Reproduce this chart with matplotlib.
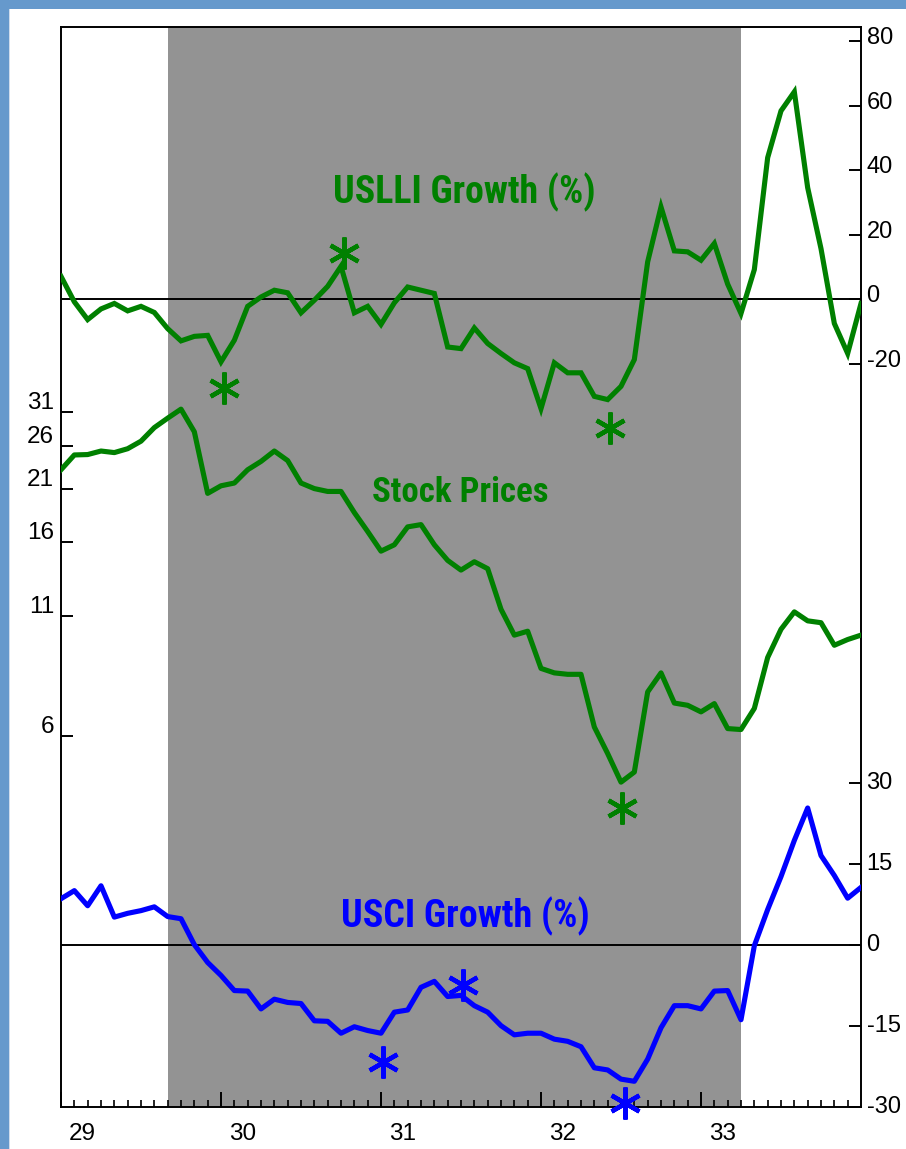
import numpy as np
import matplotlib
matplotlib.use('Agg')
import matplotlib.pyplot as plt
from matplotlib import font_manager as fm
import matplotlib.transforms as mtransforms
from matplotlib.patches import Rectangle
from matplotlib.ticker import FixedLocator, NullLocator

# ---------------- data ----------------
month_index = np.arange(61)  # Jan 1929 .. Jan 1934 (monthly)

uslli_growth = [7.1, -0.8, -6.3, -3.0, -1.3, -3.6, -2.2, -4.1, -9.1, -12.9,
                -11.5, -11.2, -19.4, -12.7, -2.2, 0.7, 2.8, 2.0, -4.2, -0.3,
                4.0, 10.2, -4.2, -2.2, -7.8, -1.1, 3.8, 2.8, 1.8, -14.8,
                -15.3, -8.9, -13.7, -16.8, -19.7, -21.5, -33.9, -19.7, -22.8, -22.8,
                -30.1, -31.1, -27.0, -18.7, 11.6, 28.6, 15.0, 14.7, 12.1, 17.3,
                4.7, -4.4, 9.2, 43.9, 58.4, 64.3, 34.6, 15.7, -7.5, -16.8,
                -1.3]

stock_prices = [23.1, 24.9, 24.95, 25.4, 25.2, 25.7, 26.7, 28.6, 30.0, 31.4,
                28.0, 20.5, 21.3, 21.6, 23.1, 24.1, 25.4, 24.2, 21.6, 21.0,
                20.7, 20.7, 18.6, 16.9, 15.3, 15.8, 17.3, 17.5, 15.8, 14.6,
                13.9, 14.5, 14.0, 11.4, 10.0, 10.2, 8.45, 8.26, 8.2, 8.2,
                6.28, 5.49, 4.75, 5.0, 7.5, 8.26, 7.09, 7.01, 6.78, 7.07,
                6.23, 6.2, 6.9, 8.93, 10.3, 11.25, 10.75, 10.65, 9.5, 9.78,
                10.0]

usci_growth = [8.5, 10.0, 7.2, 10.9, 5.1, 5.8, 6.3, 7.0, 5.2, 4.8,
               0.0, -3.3, -5.7, -8.5, -8.6, -11.9, -10.1, -10.7, -10.9, -14.1,
               -14.2, -16.4, -15.2, -15.9, -16.4, -12.5, -12.1, -7.9, -6.8, -9.6,
               -9.4, -11.3, -12.5, -15.0, -16.7, -16.4, -16.4, -17.5, -17.9, -18.9,
               -22.8, -23.2, -24.9, -25.3, -21.2, -15.4, -11.3, -11.3, -11.9, -8.6,
               -8.5, -13.9, -0.2, 6.5, 12.6, 19.3, 25.3, 16.5, 12.8, 8.6,
               10.6]

year_labels = ['29', '30', '31', '32', '33']
year_start_months = [0, 12, 24, 36, 48]
recession_start, recession_end = 8, 51

uslli_ticks = [-20, 0, 20, 40, 60, 80]
stock_ticks = [6, 11, 16, 21, 26, 31]
usci_ticks = [-30, -15, 0, 15, 30]

uslli_turns_x = [12.2, 21.2, 41.2]
uslli_turns_y = [-27.5, 14.4, -39.9]
stock_turns_x = [42.1]
stock_turns_y = [4.17]
usci_turns_x = [24.15, 30.15, 42.3]
usci_turns_y = [-21.7, -7.5, -29.3]

# ---------------- style ----------------
GREEN = '#008000'
BLUE = '#0000FF'
GRAY = '#939393'
FRAME_BLUE = '#6699CC'
available = {f.name for f in fm.fontManager.ttflist}
tick_font = 'Liberation Sans' if 'Liberation Sans' in available else 'DejaVu Sans'
title_font = next((f for f in ['Liberation Sans Narrow', 'Roboto Condensed',
                               'DejaVu Sans Condensed', 'Roboto', 'Liberation Sans']
                   if f in available), 'DejaVu Sans')
plt.rcParams['font.family'] = [tick_font, 'DejaVu Sans']

W, H = 906, 1149
fig = plt.figure(figsize=(W / 100, H / 100), dpi=100)
fig.patch.set_facecolor('white')

# blue frame on left and top
fig.patches.append(Rectangle((0, 0), 8.5 / W, 1, transform=fig.transFigure,
                             facecolor=FRAME_BLUE, edgecolor='none', zorder=0))
fig.patches.append(Rectangle((0, 1 - 8.5 / H), 1, 8.5 / H, transform=fig.transFigure,
                             facecolor=FRAME_BLUE, edgecolor='none', zorder=0))
fig.patches.append(Rectangle((8.5 / W, 0), 1.5 / W, 1 - 8.5 / H, transform=fig.transFigure,
                             facecolor='#cfdcec', edgecolor='none', zorder=0))

rect = [61 / W, 42 / H, 800 / W, 1080 / H]
ax1 = fig.add_axes(rect)
ax2 = fig.add_axes(rect, facecolor='none')
ax3 = fig.add_axes(rect, facecolor='none')

for a in (ax1, ax2, ax3):
    a.set_xlim(0, 60)

LW = 3.7

# ---- base axes: shading, x axis, USLLI ----
ax1.axvspan(recession_start, recession_end, color=GRAY, lw=0, zorder=0)
ax1.axhline(0, color='black', lw=1.4, zorder=1)
ax1.plot(month_index, uslli_growth, color=GREEN, lw=LW, zorder=3,
         solid_joinstyle='miter')
ax1.plot(uslli_turns_x, uslli_turns_y, ls='none', marker=(6, 2, 0), ms=23,
         mec=GREEN, mew=3.2, zorder=4, clip_on=False)
ax1.set_ylim(-250.4, 84.4)
ax1.yaxis.set_major_locator(FixedLocator(uslli_ticks))
ax1.set_yticklabels([str(t) for t in uslli_ticks])
ax1.yaxis.tick_right()
ax1.tick_params(axis='y', which='major', direction='in', length=8.6, width=1.4,
                pad=4, labelsize=17, right=True, left=False,
                labelright=True, labelleft=False)
ax1.xaxis.set_major_locator(FixedLocator(year_start_months))
ax1.set_xticklabels(year_labels)
ax1.xaxis.set_minor_locator(FixedLocator([m for m in month_index if m % 12 != 0]))
ax1.tick_params(axis='x', which='major', direction='in', length=11, width=1.4,
                pad=10, labelsize=17.5, top=False)
ax1.tick_params(axis='x', which='minor', direction='in', length=5, width=1.2,
                top=False)
for s in ax1.spines.values():
    s.set_linewidth(1.4)

# ---- stock prices (log, left axis) ----
ax2.set_yscale('log')
ax2.plot(month_index, stock_prices, color=GREEN, lw=LW, zorder=3)
ax2.plot(stock_turns_x, stock_turns_y, ls='none', marker=(6, 2, 0), ms=23,
         mec=GREEN, mew=3.2, zorder=4, clip_on=False)
ax2.set_ylim(0.917, 217.4)
ax2.yaxis.set_major_locator(FixedLocator(stock_ticks))
ax2.yaxis.set_minor_locator(NullLocator())
ax2.set_yticklabels([str(t) for t in stock_ticks])
ax2.tick_params(axis='y', which='major', direction='in', length=8.6, width=1.4,
                pad=5, labelsize=17.5, left=True, right=False,
                labelleft=True, labelright=False)
ax2.tick_params(axis='x', which='both', bottom=False, labelbottom=False,
                top=False)
for s in ax2.spines.values():
    s.set_visible(False)

# ---- USCI growth ----
ax3.axhline(0, color='black', lw=1.4, zorder=1)
ax3.plot(month_index, usci_growth, color=BLUE, lw=LW, zorder=3)
ax3.plot(usci_turns_x, usci_turns_y, ls='none', marker=(6, 2, 0), ms=23,
         mec=BLUE, mew=3.2, zorder=4, clip_on=False)
ax3.set_ylim(-30.06, 169.9)
ax3.yaxis.set_major_locator(FixedLocator(usci_ticks))
ax3.set_yticklabels([str(t) for t in usci_ticks])
ax3.yaxis.tick_right()
ax3.tick_params(axis='y', which='major', direction='in', length=8.6, width=1.4,
                pad=4, labelsize=17, right=True, left=False,
                labelright=True, labelleft=False)
ax3.tick_params(axis='x', which='both', bottom=False, labelbottom=False,
                top=False)
for s in ax3.spines.values():
    s.set_visible(False)


def shift(labels, dx_px, dy_px):
    off = mtransforms.ScaledTranslation(dx_px / 100, dy_px / 100, fig.dpi_scale_trans)
    for lab in labels:
        lab.set_transform(lab.get_transform() + off)


shift([t.label2 for t in ax1.yaxis.get_major_ticks()], 0, 5.5)
shift([t.label2 for t in ax3.yaxis.get_major_ticks()], 0, 2)
shift([t.label1 for t in ax2.yaxis.get_major_ticks()], 0, 11.5)
shift([t.label1 for t in ax1.xaxis.get_major_ticks()], 21.5, -2)

# ---- series titles ----
titles = [
    (ax1, 0.504, 0.847, 'USLLI Growth (%)', GREEN, 262),
    (ax1, 0.499, 0.569, 'Stock Prices', GREEN, 176),
    (ax3, 0.506, 0.177, 'USCI Growth (%)', BLUE, 248),
]
renderer = fig.canvas.get_renderer()
for a, x, y, s, c, target in titles:
    t = a.text(x, y, s, transform=a.transAxes, color=c, fontweight='bold',
               family=[title_font, 'DejaVu Sans'], fontsize=22,
               ha='center', va='center', zorder=5)
    w = t.get_window_extent(renderer).width
    t.set_fontsize(22 * target / w)

fig.savefig('out.png', dpi=100, facecolor=fig.get_facecolor())
